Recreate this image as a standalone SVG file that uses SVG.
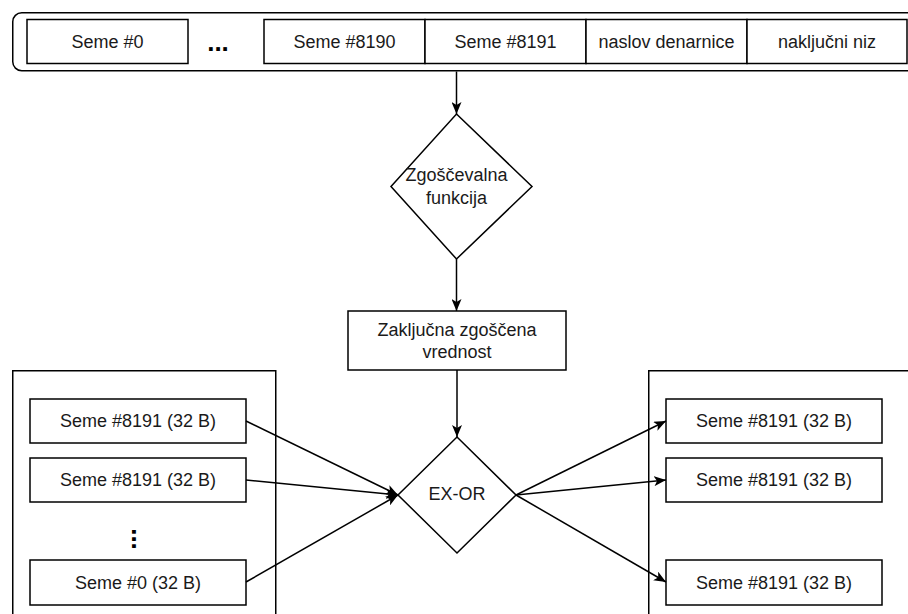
<svg xmlns="http://www.w3.org/2000/svg" width="908" height="614" viewBox="0 0 908 614">
<defs>
<style>
.box{fill:#ffffff;stroke:#000000;stroke-width:1.5}
.cont{fill:none;stroke:#000000;stroke-width:1.5}
.t{font-family:"Liberation Sans",Arial,sans-serif;font-size:18px;fill:#1a1a1a;text-anchor:middle;dominant-baseline:central}
.dots{font-family:"Liberation Sans",Arial,sans-serif;font-size:26px;font-weight:bold;fill:#000000;text-anchor:middle}
.edge{fill:none;stroke:#000000;stroke-width:1.5}
</style>
<marker id="arr" markerUnits="userSpaceOnUse" viewBox="0 0 12 10" markerWidth="12" markerHeight="10" refX="12" refY="5" orient="auto">
<path d="M0,0 L12,5 L0,10 L3,5 z" fill="#000000"/>
</marker>
</defs>
<rect width="908" height="614" fill="#ffffff"/>

<g id="top-container">
<rect class="cont" x="12.75" y="12.75" width="910" height="58" rx="9" ry="9"/>
<g id="seme0"><rect class="box" x="27" y="19.5" width="161" height="44"/><text class="t" x="107.5" y="41.5">Seme #0</text></g>
<g id="dots-top"><text class="dots" x="218" y="51">...</text></g>
<g id="seme8190"><rect class="box" x="264" y="19.5" width="161" height="44"/><text class="t" x="344.5" y="41.5">Seme #8190</text></g>
<g id="seme8191"><rect class="box" x="425" y="19.5" width="161" height="44"/><text class="t" x="505.5" y="41.5">Seme #8191</text></g>
<g id="naslov"><rect class="box" x="586" y="19.5" width="161" height="44"/><text class="t" x="666.5" y="41.5">naslov denarnice</text></g>
<g id="nakljucni"><rect class="box" x="747" y="19.5" width="160" height="44"/><text class="t" x="827" y="41.5">naključni niz</text></g>
</g>

<g id="hash-fn">
<polygon class="box" points="456.5,114 532,186.5 456.5,259 391,186.5"/>
<text class="t" x="456.5" y="175">Zgoščevalna</text>
<text class="t" x="456.5" y="197.5">funkcija</text>
</g>

<g id="final-hash">
<rect class="box" x="348" y="311" width="218" height="59"/>
<text class="t" x="457" y="329.5">Zaključna zgoščena</text>
<text class="t" x="457" y="352">vrednost</text>
</g>

<g id="left-container">
<rect class="cont" x="12.75" y="370.75" width="263" height="260"/>
<g id="l1"><rect class="box" x="30" y="399" width="216" height="44"/><text class="t" x="138" y="421">Seme #8191 (32 B)</text></g>
<g id="l2"><rect class="box" x="30" y="458" width="216" height="44"/><text class="t" x="138" y="480">Seme #8191 (32 B)</text></g>
<g id="ldots"><text class="dots" x="0" y="0" transform="translate(132,539) rotate(90)">...</text></g>
<g id="l3"><rect class="box" x="30" y="560" width="216" height="45"/><text class="t" x="138" y="582.5">Seme #0 (32 B)</text></g>
</g>

<g id="exor">
<polygon class="box" points="457,437 516,495 457,553 398,495"/>
<text class="t" x="457" y="494">EX-OR</text>
</g>

<g id="right-container">
<rect class="cont" x="648.75" y="370.75" width="290" height="260"/>
<g id="r1"><rect class="box" x="666" y="399" width="216" height="44"/><text class="t" x="774" y="421">Seme #8191 (32 B)</text></g>
<g id="r2"><rect class="box" x="666" y="458" width="216" height="44"/><text class="t" x="774" y="480">Seme #8191 (32 B)</text></g>
<g id="r3"><rect class="box" x="666" y="560" width="216" height="45"/><text class="t" x="774" y="582.5">Seme #8191 (32 B)</text></g>
</g>

<g id="connectors">
<line class="edge" x1="456.5" y1="71.5" x2="456.5" y2="114" marker-end="url(#arr)"/>
<line class="edge" x1="456.5" y1="259" x2="456.5" y2="311" marker-end="url(#arr)"/>
<line class="edge" x1="457" y1="370" x2="457" y2="437" marker-end="url(#arr)"/>
<line class="edge" x1="246" y1="421" x2="398" y2="495" marker-end="url(#arr)"/>
<line class="edge" x1="246" y1="480" x2="398" y2="495" marker-end="url(#arr)"/>
<line class="edge" x1="246" y1="582" x2="398" y2="495" marker-end="url(#arr)"/>
<line class="edge" x1="516" y1="495" x2="666" y2="421" marker-end="url(#arr)"/>
<line class="edge" x1="516" y1="495" x2="666" y2="480" marker-end="url(#arr)"/>
<line class="edge" x1="516" y1="495" x2="666" y2="582" marker-end="url(#arr)"/>
</g>
</svg>
